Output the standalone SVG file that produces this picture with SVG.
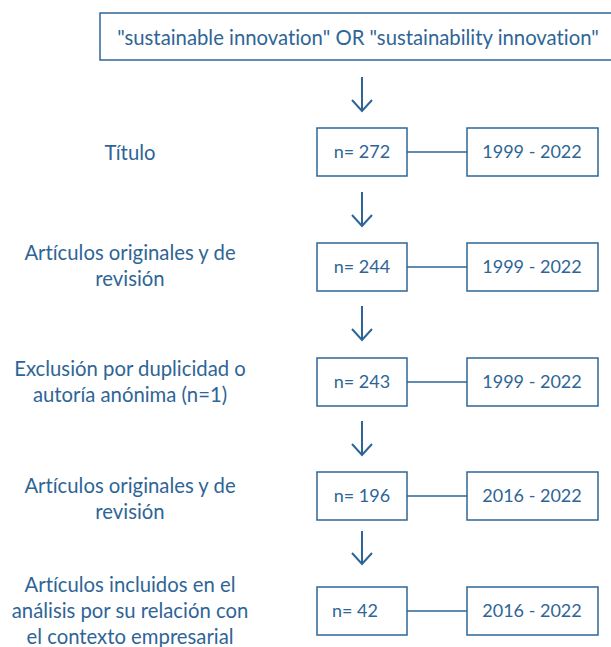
<svg xmlns="http://www.w3.org/2000/svg" width="611" height="647" viewBox="0 0 611 647">
<defs>
<style>
text{font-family:"Lato","Liberation Sans",sans-serif;font-size:20.3px;fill:#2E6596;text-anchor:middle;font-variant-ligatures:none}
.num{font-size:18px}
.box{fill:#fff;stroke:#2E6596;stroke-width:1.5}
.ln{stroke:#2E6596;stroke-width:1.5;fill:none}
.ar{stroke:#2E6596;stroke-width:2;fill:none}
</style>
</defs>
<rect width="611" height="647" fill="#fff"/>
<g id="query"><rect class="box" x="100" y="13" width="516" height="47"/><text x="358" y="45">"sustainable innovation" OR "sustainability innovation"</text></g>
<g id="label1"><text x="130" y="160">Título</text></g>
<g id="label2"><text x="130" y="260">Artículos originales y de</text><text x="130" y="286">revisión</text></g>
<g id="label3"><text x="130" y="376">Exclusión por duplicidad o</text><text x="130" y="402">autoría anónima (n=1)</text></g>
<g id="label4"><text x="130" y="493">Artículos originales y de</text><text x="130" y="519">revisión</text></g>
<g id="label5"><text x="130" y="592">Artículos incluidos en el</text><text x="130" y="618">análisis por su relación con</text><text x="130" y="644">el contexto empresarial</text></g>
<g id="n1"><rect class="box" x="317" y="128" width="90" height="48"/><text class="num" x="362" y="158">n= 272</text></g>
<g id="y1"><rect class="box" x="467" y="128" width="131" height="48"/><text class="num" x="532" y="158">1999 - 2022</text></g>
<g id="n2"><rect class="box" x="317" y="243" width="90" height="48"/><text class="num" x="362" y="273">n= 244</text></g>
<g id="y2"><rect class="box" x="467" y="243" width="131" height="48"/><text class="num" x="532" y="273">1999 - 2022</text></g>
<g id="n3"><rect class="box" x="317" y="358" width="90" height="48"/><text class="num" x="362" y="388">n= 243</text></g>
<g id="y3"><rect class="box" x="467" y="358" width="131" height="48"/><text class="num" x="532" y="388">1999 - 2022</text></g>
<g id="n4"><rect class="box" x="317" y="472" width="90" height="48"/><text class="num" x="362" y="502">n= 196</text></g>
<g id="y4"><rect class="box" x="467" y="472" width="131" height="48"/><text class="num" x="532" y="502">2016 - 2022</text></g>
<g id="n5"><rect class="box" x="317" y="587" width="90" height="48"/><text class="num" x="355" y="617">n= 42</text></g>
<g id="y5"><rect class="box" x="467" y="587" width="131" height="48"/><text class="num" x="532" y="617">2016 - 2022</text></g>
<g id="connectors">
<line class="ln" x1="407" y1="152" x2="467" y2="152"/>
<line class="ln" x1="407" y1="267" x2="467" y2="267"/>
<line class="ln" x1="407" y1="382" x2="467" y2="382"/>
<line class="ln" x1="407" y1="496" x2="467" y2="496"/>
<line class="ln" x1="407" y1="611" x2="467" y2="611"/>
<path class="ar" d="M362 77V110M352 100L362 111L372 100"/>
<path class="ar" d="M362 192V225M352 215L362 226L372 215"/>
<path class="ar" d="M362 306V339M352 329L362 340L372 329"/>
<path class="ar" d="M362 421V454M352 444L362 455L372 444"/>
<path class="ar" d="M362 531V563M352 553L362 564L372 553"/>
</g>
</svg>
